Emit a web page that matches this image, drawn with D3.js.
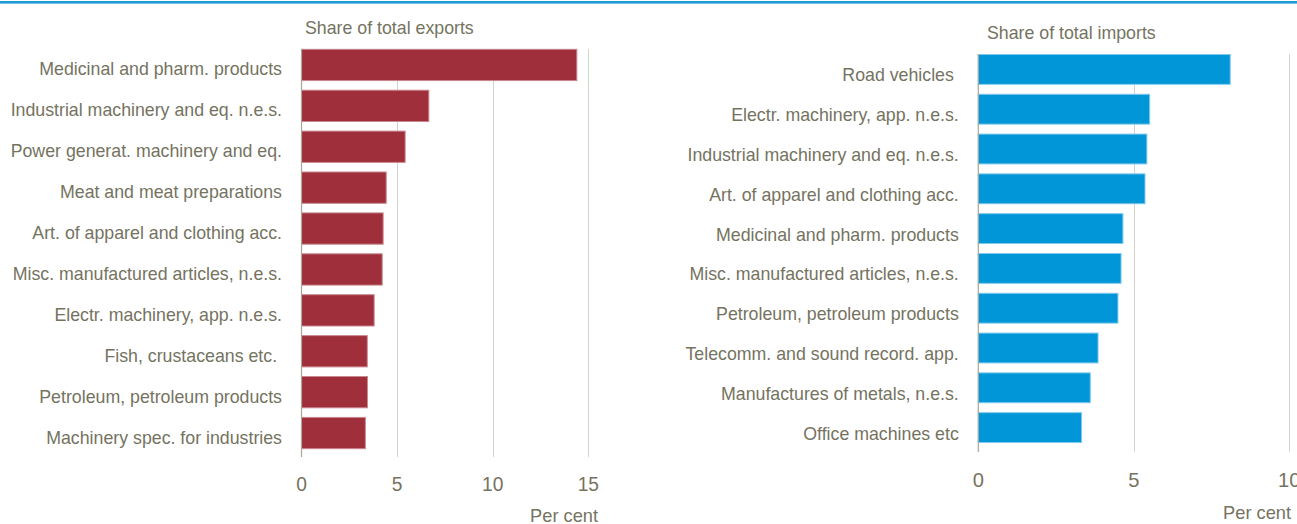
<!DOCTYPE html>
<meta charset="utf-8">
<title>exports imports shares</title>
<script src="https://d3js.org/d3.v7.min.js"></script>
<style>
body { margin: 0; background: #fff; }
text {
  font-family: "Liberation Sans", Arial, sans-serif;
  fill: #75735f;
  white-space: pre;
}
.grid { stroke: #d3d3ca; stroke-width: 1px; }
.zero { stroke: #a9a695; stroke-width: 1.2px; }
</style>
<body>
<script>

var exportCats = ["Medicinal and pharm. products", "Industrial machinery and eq. n.e.s.",
  "Power generat. machinery and eq.", "Meat and meat preparations",
  "Art. of apparel and clothing acc.", "Misc. manufactured articles, n.e.s.",
  "Electr. machinery, app. n.e.s.", "Fish, crustaceans etc. ",
  "Petroleum, petroleum products", "Machinery spec. for industries"];
var exportVals = [14.4, 6.66, 5.42, 4.43, 4.27, 4.22, 3.8, 3.44, 3.45, 3.34];

var importCats = ["Road vehicles ", "Electr. machinery, app. n.e.s.",
  "Industrial machinery and eq. n.e.s.", "Art. of apparel and clothing acc.",
  "Medicinal and pharm. products", "Misc. manufactured articles, n.e.s.",
  "Petroleum, petroleum products", "Telecomm. and sound record. app.",
  "Manufactures of metals, n.e.s.", "Office machines etc"];
var importVals = [8.1, 5.51, 5.42, 5.36, 4.65, 4.59, 4.49, 3.85, 3.6, 3.32];

var exportTicks = [0, 5, 10, 15];
var importTicks = [0, 5, 10];

var width = 1297, height = 524;

var svg = d3.select("body").append("svg")
    .attr("width", width)
    .attr("height", height);

// blue rule across the top
svg.append("rect")
    .attr("x", 0).attr("y", 1)
    .attr("width", width).attr("height", 2.6)
    .attr("fill", "#1d9bd7");

var sx = 0.96;

function panel(cfg) {
  var x = d3.scaleLinear()
      .domain([0, cfg.ticks[cfg.ticks.length - 1]])
      .range([cfg.x0, cfg.x1]);

  var y = d3.scaleBand()
      .domain(cfg.cats)
      .range([cfg.y0, cfg.y1])
      .paddingInner(cfg.pad)
      .paddingOuter(cfg.pad / 2);

  var g = svg.append("g");

  g.selectAll(".grid")
      .data(cfg.ticks.slice(1))
      .enter().append("line")
      .attr("class", "grid")
      .attr("x1", function(d) { return Math.round(x(d)) + 0.5; })
      .attr("x2", function(d) { return Math.round(x(d)) + 0.5; })
      .attr("y1", cfg.gTop)
      .attr("y2", cfg.gBot);

  g.selectAll(".bar")
      .data(cfg.vals)
      .enter().append("rect")
      .attr("class", "bar")
      .attr("x", x(0))
      .attr("y", function(d, i) { return y(cfg.cats[i]); })
      .attr("width", function(d) { return x(d) - x(0); })
      .attr("height", y.bandwidth())
      .attr("fill", cfg.fill)
      .attr("stroke", cfg.stroke)
      .attr("stroke-width", 1);

  g.append("line")
      .attr("class", "zero")
      .attr("x1", x(0)).attr("x2", x(0))
      .attr("y1", cfg.gTop).attr("y2", cfg.gBot);

  // category labels
  g.selectAll(".lab")
      .data(cfg.cats)
      .enter().append("text")
      .attr("class", "lab")
      .attr("text-anchor", "end")
      .attr("font-size", "18.5px")
      .attr("transform", function(d) {
        return "translate(" + (x(0) - 19.5) + "," + (y(d) + y.bandwidth() / 2 + cfg.labDy) + ") scale(" + sx + ",1)";
      })
      .text(function(d) { return d; });

  // tick labels
  g.selectAll(".tick")
      .data(cfg.ticks)
      .enter().append("text")
      .attr("class", "tick")
      .attr("text-anchor", "middle")
      .attr("font-size", cfg.tickSize)
      .attr("transform", function(d) {
        return "translate(" + x(d) + "," + cfg.tickY + ") scale(" + sx + ",1)";
      })
      .text(function(d) { return d; });

  g.append("text")
      .attr("text-anchor", "end")
      .attr("font-size", "19px")
      .attr("transform", "translate(" + cfg.unitX + "," + cfg.unitY + ") scale(" + sx + ",1)")
      .text("Per cent");

  g.append("text")
      .attr("font-size", "18.5px")
      .attr("transform", "translate(" + cfg.titleX + "," + cfg.titleY + ") scale(" + sx + ",1)")
      .text(cfg.title);
}

panel({
  cats: exportCats, vals: exportVals, ticks: exportTicks,
  x0: 301.5, x1: 588.3, y0: 44.5, y1: 453.5, pad: 0.235,
  gTop: 49, gBot: 457,
  fill: "#9e2f3b", stroke: "#c98890",
  labDy: 10.5, tickSize: "20px", tickY: 490.5,
  unitX: 598, unitY: 521.5,
  title: "Share of total exports", titleX: 305, titleY: 34
});

panel({
  cats: importCats, vals: importVals, ticks: importTicks,
  x0: 978.3, x1: 1289.3, y0: 49.5, y1: 447.5, pad: 0.25,
  gTop: 54, gBot: 452,
  fill: "#0096d7", stroke: "#80c9ec",
  labDy: 12, tickSize: "21px", tickY: 486.5,
  unitX: 1291, unitY: 518.5,
  title: "Share of total imports", titleX: 987, titleY: 39
});

</script>
</body>
</html>
